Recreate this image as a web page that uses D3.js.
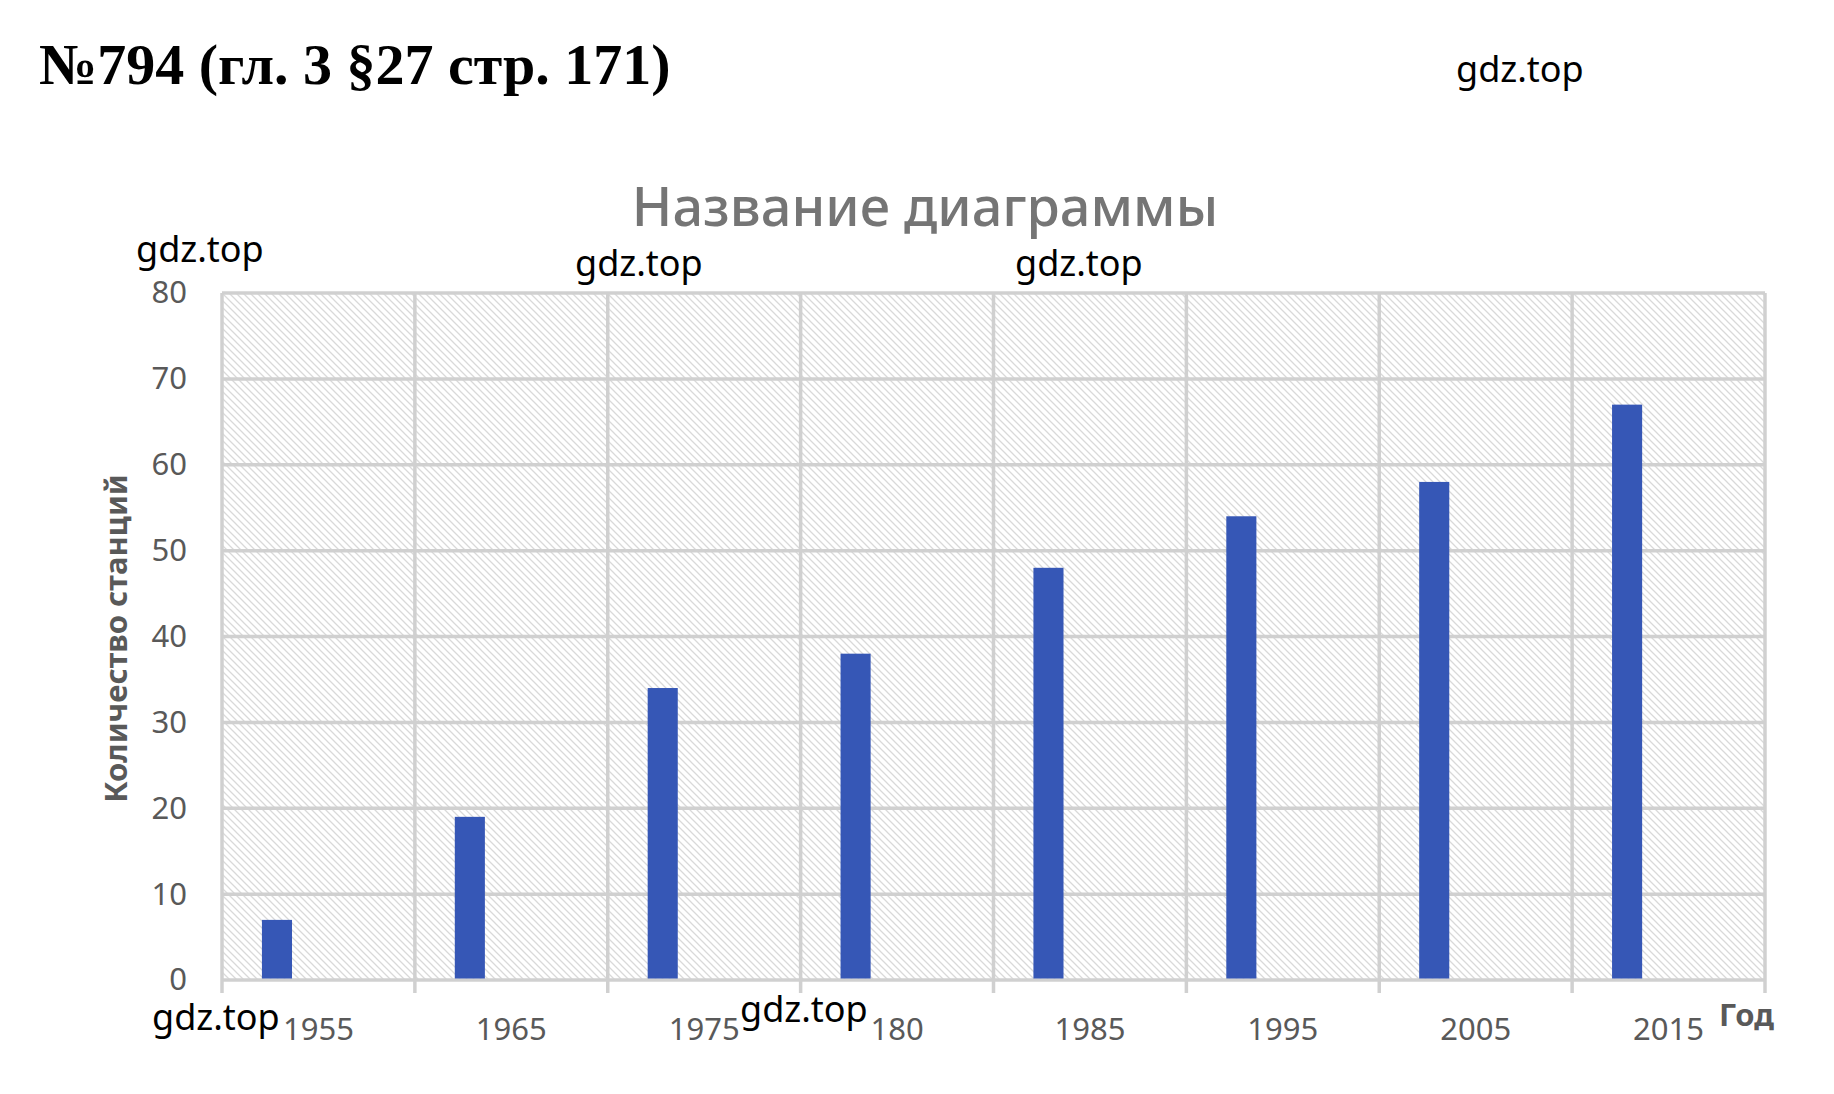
<!DOCTYPE html>
<html>
<head>
<meta charset="utf-8">
<script src="https://cdn.jsdelivr.net/npm/d3@7"></script>
<style>
  body { margin: 0; background: #fff; }
  svg { display: block; }
  .tick text { fill: #595959; font-family: "Noto Sans", sans-serif; font-size: 31px; }
  .wm { font-family: "Noto Sans", sans-serif; font-size: 36px; fill: #000; }
</style>
</head>
<body>
<svg class="chart"></svg>
<script>
// data
var years = ["1955", "1965", "1975", "180", "1985", "1995", "2005", "2015"];
var stations = [7, 19, 34, 38, 48, 54, 58, 67];
var yTicks = [0, 10, 20, 30, 40, 50, 60, 70, 80];

var W = 1834, H = 1094;
var margin = {top: 293, right: 69, bottom: 114, left: 222},
    width = W - margin.left - margin.right,
    height = H - margin.top - margin.bottom;

var svg = d3.select(".chart")
    .attr("width", W)
    .attr("height", H);

// hatch background
var defs = svg.append("defs");
defs.append("pattern")
    .attr("id", "hatch")
    .attr("patternUnits", "userSpaceOnUse")
    .attr("width", 7)
    .attr("height", 7)
  .append("path")
    .attr("d", "M0,0L7,7M-1,6L1,8M6,-1L8,1")
    .attr("stroke", "#d9d9d9")
    .attr("stroke-width", 1.3);

var g = svg.append("g")
    .attr("transform", "translate(" + margin.left + "," + margin.top + ")");

var x = d3.scaleBand()
    .domain(years)
    .range([0, width]);

var y = d3.scaleLinear()
    .domain([0, 80])
    .range([height, 0]);

g.append("rect")
    .attr("width", width)
    .attr("height", height)
    .attr("fill", "url(#hatch)");

// grid
var gridColor = "#d0d0d0";
g.selectAll(".hgrid")
    .data(yTicks)
  .enter().append("line")
    .attr("class", "hgrid")
    .attr("x1", 0)
    .attr("x2", width)
    .attr("y1", function(d) { return y(d); })
    .attr("y2", function(d) { return y(d); })
    .attr("stroke", gridColor)
    .attr("stroke-width", 3.5);

var bounds = years.map(function(d) { return x(d); }).concat([width]);
g.selectAll(".vgrid")
    .data(bounds)
  .enter().append("line")
    .attr("class", "vgrid")
    .attr("x1", function(d) { return d; })
    .attr("x2", function(d) { return d; })
    .attr("y1", 0)
    .attr("y2", height + 13)
    .attr("stroke", gridColor)
    .attr("stroke-width", 3.5);

// bars (first slot of the cluster)
g.selectAll(".bar")
    .data(stations)
  .enter().append("rect")
    .attr("class", "bar")
    .attr("x", function(d, i) { return x(years[i]) + x.bandwidth() * 0.207; })
    .attr("width", x.bandwidth() * 0.156)
    .attr("y", function(d) { return y(d); })
    .attr("height", function(d) { return height - y(d) - 1.5; })
    .attr("fill", "#3657b6");

// axes
var yAxis = d3.axisLeft(y).tickValues(yTicks).tickSize(0).tickPadding(35);
g.append("g")
    .attr("class", "y axis")
    .call(yAxis)
    .call(function(s) { s.select(".domain").remove(); });

var xAxis = d3.axisBottom(x).tickSize(0).tickPadding(38);
g.append("g")
    .attr("class", "x axis")
    .attr("transform", "translate(0," + height + ")")
    .call(xAxis)
    .call(function(s) { s.select(".domain").remove(); });

// axis titles
svg.append("text")
    .attr("transform", "translate(127," + (margin.top + height / 2 + 2) + ") rotate(-90)")
    .style("text-anchor", "middle")
    .style("font-family", "'Noto Sans', sans-serif")
    .style("font-weight", "bold")
    .style("font-size", "31px")
    .attr("fill", "#595959")
    .text("Количество станций");

svg.append("text")
    .attr("x", 1719)
    .attr("y", 1026)
    .style("font-family", "'Noto Sans', sans-serif")
    .style("font-weight", "bold")
    .style("font-size", "31px")
    .attr("fill", "#595959")
    .text("Год");

// chart title
svg.append("text")
    .attr("x", 925)
    .attr("y", 226)
    .style("text-anchor", "middle")
    .style("font-family", "'Noto Sans', sans-serif")
    .style("font-weight", 500)
    .style("font-size", "54px")
    .attr("fill", "#757575")
    .text("Название диаграммы");

// page heading
svg.append("text")
    .attr("x", 39)
    .attr("y", 84)
    .style("font-family", "'Liberation Serif', 'Times New Roman', serif")
    .style("font-weight", "bold")
    .style("font-size", "58px")
    .attr("fill", "#000")
    .text("№794 (гл. 3 §27 стр. 171)");

// watermarks
var marks = [[1456, 82], [136, 262], [575, 276], [1015, 276], [152, 1030], [740, 1022]];
svg.selectAll(".wm")
    .data(marks)
  .enter().append("text")
    .attr("class", "wm")
    .attr("x", function(d) { return d[0]; })
    .attr("y", function(d) { return d[1]; })
    .text("gdz.top");
</script>
</body>
</html>
